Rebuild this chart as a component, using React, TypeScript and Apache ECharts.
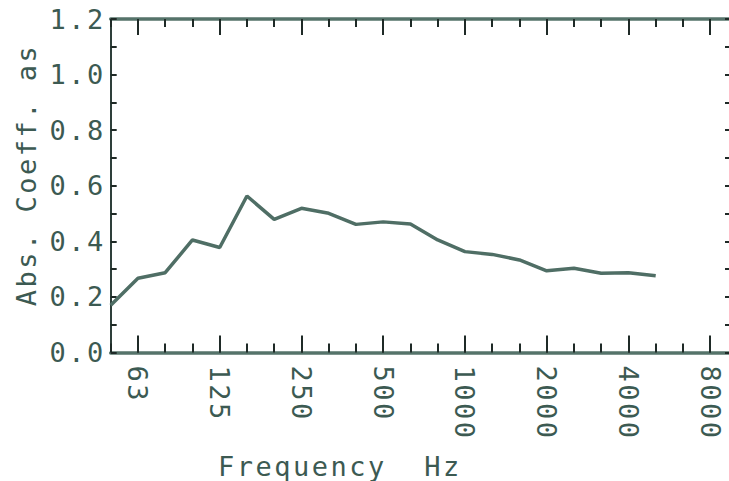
import React, { useEffect, useRef } from "react";
import * as echarts from "echarts";

// Third-octave band centre frequencies (Hz) and measured absorption coefficient
const bandFreqs = [50, 63, 80, 100, 125, 160, 200, 250, 315, 400, 500, 630, 800, 1000, 1250, 1600, 2000, 2500, 3150, 4000, 5000];
const absCoeff = [0.17, 0.267, 0.287, 0.405, 0.378, 0.563, 0.479, 0.519, 0.501, 0.461, 0.47, 0.462, 0.405, 0.363, 0.353, 0.333, 0.294, 0.303, 0.285, 0.287, 0.276];

// Octave tick labels
const octaveLabels = ["63", "125", "250", "500", "1000", "2000", "4000", "8000"];
const octaveFreqs = [63, 125, 250, 500, 1000, 2000, 4000, 8000];
// All third-octave tick frequencies along the axis
const tickFreqs = [50, 63, 80, 100, 125, 160, 200, 250, 315, 400, 500, 630, 800, 1000, 1250, 1600, 2000, 2500, 3150, 4000, 5000, 6300, 8000];

const X_MIN = -13;
const X_MAX = 9.69;
const Y_MIN = 0;
const Y_MAX = 1.2;
const Y_INTERVAL = 0.2;

const FONT = "'DejaVu Sans Mono', monospace";
const TEXT = "#3c5a52";
const FRAME = "#55736a";
const TICK = "#1f2a27";
const LINE = "#4f6e65";

const band = (f: number) => Math.round(3 * Math.log2(f / 1000));

export default function App() {
  const ref = useRef<HTMLDivElement>(null);
  useEffect(() => {
    if (!ref.current) return;
    const chart = echarts.init(ref.current, null, { renderer: "svg" });
    const octBands = octaveFreqs.map(band);
    const allBands = tickFreqs.map(band);
    const labelMap: Record<string, string> = {};
    octBands.forEach((b, i) => (labelMap[String(b)] = octaveLabels[i]));

    const baseX = {
      type: "value" as const,
      min: X_MIN,
      max: X_MAX,
      splitLine: { show: false },
    };

    chart.setOption({
      animation: false,
      backgroundColor: "#ffffff",
      grid: { left: 110.7, top: 19, width: 619.3, height: 333.5 },
      xAxis: [
        {
          ...baseX,
          position: "bottom",
          axisLine: { show: true, onZero: false, lineStyle: { color: FRAME, width: 3.5 } },
          axisTick: { show: true, inside: true, length: 9, customValues: allBands, lineStyle: { color: TICK, width: 2 } },
          axisLabel: { show: false },
        },
        {
          ...baseX,
          position: "bottom",
          axisLine: { show: false, onZero: false },
          axisTick: { show: true, inside: true, length: 17, customValues: octBands, lineStyle: { color: TICK, width: 2 } },
          axisLabel: {
            show: true,
            customValues: octBands,
            rotate: -90,
            margin: 13,
            color: TEXT,
            fontFamily: FONT,
            fontSize: 27,
            formatter: (v: number) => labelMap[String(Math.round(v))] ?? "",
          },
        },
        {
          ...baseX,
          position: "top",
          axisLine: { show: true, onZero: false, lineStyle: { color: FRAME, width: 3.5 } },
          axisTick: { show: true, inside: true, length: 8, customValues: allBands, lineStyle: { color: TICK, width: 2 } },
          axisLabel: { show: false },
        },
        {
          ...baseX,
          position: "top",
          axisLine: { show: false, onZero: false },
          axisTick: { show: true, inside: true, length: 16, customValues: octBands, lineStyle: { color: TICK, width: 2 } },
          axisLabel: { show: false },
        },
      ],
      yAxis: [
        {
          type: "value",
          position: "left",
          min: Y_MIN,
          max: Y_MAX,
          interval: Y_INTERVAL,
          splitLine: { show: false },
          axisLine: { show: true, onZero: false, lineStyle: { color: "#2e3f3a", width: 2 } },
          axisTick: { show: true, inside: true, length: 6, lineStyle: { color: TICK, width: 2 } },
          minorTick: { show: true, splitNumber: 2, length: 6, lineStyle: { color: TICK, width: 2 } },
          axisLabel: {
            show: true,
            margin: 5,
            color: TEXT,
            fontFamily: FONT,
            fontSize: 27,
            formatter: (v: number) => v.toFixed(1),
          },
        },
        {
          type: "value",
          position: "right",
          min: Y_MIN,
          max: Y_MAX,
          interval: Y_INTERVAL,
          splitLine: { show: false },
          axisLine: { show: false, onZero: false },
          axisTick: { show: true, inside: true, length: 4, lineStyle: { color: TICK, width: 2 } },
          minorTick: { show: true, splitNumber: 2, length: 4, lineStyle: { color: TICK, width: 2 } },
          axisLabel: { show: false },
        },
      ],
      graphic: [
        {
          type: "text",
          left: 218,
          top: 453,
          style: { text: "Frequency  Hz", fill: TEXT, font: `27px ${FONT}` },
        },
        {
          type: "text",
          x: 26,
          y: 175,
          rotation: Math.PI / 2,
          style: { text: "Abs. Coeff. as", fill: TEXT, font: `27px ${FONT}`, align: "center", verticalAlign: "middle" },
        },
      ],
      series: [
        {
          type: "line",
          xAxisIndex: 0,
          yAxisIndex: 0,
          symbol: "none",
          lineStyle: { color: LINE, width: 3.5 },
          data: bandFreqs.map((f, i) => [band(f), absCoeff[i]]),
        },
      ],
    });
    return () => chart.dispose();
  }, []);

  return (
    <div
      ref={ref}
      style={{
        position: "fixed",
        left: 0,
        top: 0,
        width: 729,
        height: 481,
        background: "#fff",
        letterSpacing: "2.5px",
        whiteSpace: "pre",
      }}
    />
  );
}
